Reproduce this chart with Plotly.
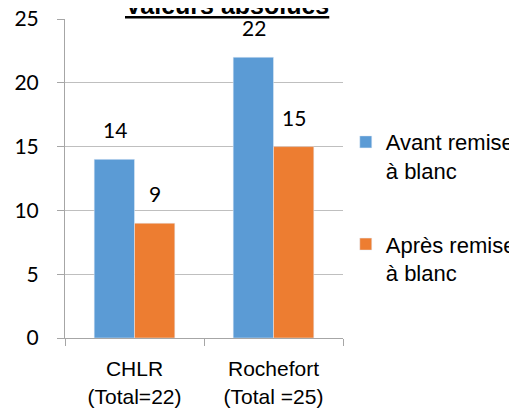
import plotly.graph_objects as go

categories = ["CHLR<br>(Total=22)", "Rochefort<br>(Total =25)"]
avant = [14, 22]
apres = [9, 15]
series_names = ["Avant remise<br>à blanc", "Après remise<br>à blanc"]
colors = ["#5B9BD5", "#ED7D31"]
title_text = "Valeurs absolues"

fig = go.Figure()
for name, vals, col in zip(series_names, [avant, apres], colors):
    fig.add_trace(go.Bar(x=categories, y=vals, name=name, marker_color=col,
                         legendgroup=name))

label_font = dict(family="Lato, Carlito, sans-serif", size=21, color="#000000")
for vals, shift in [(avant, -20), (apres, 20)]:
    for c, v in zip(categories, vals):
        fig.add_annotation(x=c, y=v, text=str(v), showarrow=False, xshift=shift,
                           yanchor="bottom", yshift=15, font=label_font)

fig.add_annotation(x=0.584, xref="paper", y=1, yref="paper", yanchor="bottom",
                   yshift=-2, text="<b><u>" + title_text + "</u></b>", showarrow=False,
                   font=dict(family="Liberation Sans, Arial", size=25, color="#000"))

fig.update_layout(
    width=509, height=407,
    margin=dict(l=57, r=174, t=11, b=77, autoexpand=False),
    paper_bgcolor="white", plot_bgcolor="white",
    barmode="group", bargap=0.42, bargroupgap=0,
    showlegend=True,
    legend=dict(x=1.010, y=0.68, xanchor="left", yanchor="top",
                font=dict(family="Liberation Sans, Arial", size=22, color="#000"),
                valign="top", tracegroupgap=42, traceorder="grouped",
                bgcolor="rgba(0,0,0,0)"),
    xaxis=dict(showline=True, linecolor="#A6A6A6", linewidth=1, automargin=False,
               ticks="outside", tickson="boundaries", ticklen=7, tickcolor="#A6A6A6",
               ticklabelstandoff=12, ticklabeloverflow="allow",
               tickfont=dict(family="Liberation Sans, Arial", size=21, color="#000"),
               showgrid=False),
    yaxis=dict(range=[0, 25], dtick=5, showline=True, linecolor="#A6A6A6", linewidth=1,
               automargin=False, ticklabelstandoff=14, ticklabeloverflow="allow",
               ticks="outside", ticklen=7, tickcolor="#A6A6A6",
               gridcolor="#BFBFBF", gridwidth=1, zeroline=False,
               tickfont=label_font),
)

fig.write_html("out.html")
